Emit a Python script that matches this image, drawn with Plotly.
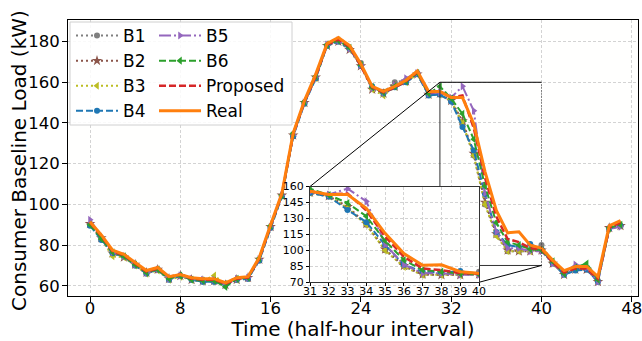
import plotly.graph_objects as go

# ---------------- data ----------------
t = list(range(48))
real = [91.5, 85, 77.5, 75.5, 71.5, 67.5, 69, 64.5, 65.5, 64, 63.5, 63.5, 61.5, 64, 64.5, 74, 90, 105.5,
        135, 151, 164, 179, 182, 178, 169, 158, 155.5, 158, 161, 165.5, 155.5, 155.5, 152.5, 152.5, 139.5,
        116, 97, 86, 86.5, 80, 78.5, 72.5, 67.5, 69.5, 69.5, 64.5, 89.5, 92]
proposed = [91, 84.5, 77, 75, 71, 67, 68.5, 64.5, 65.5, 63.5, 63, 63, 61, 63.5, 64, 73.5, 89.5, 105,
            134.5, 150.5, 163, 178.5, 181, 177.5, 168, 157.5, 155, 157.5, 160.5, 165, 155, 155.5, 152.5,
            153.5, 137.5, 113, 94, 83, 81.5, 78.5, 78, 71.5, 66.5, 68.5, 68.5, 63.5, 88.5, 91]
b1 = [90, 83, 76, 74.5, 70, 66, 68, 63.5, 65, 63, 62, 62, 60.5, 63, 63.5, 72.5, 88.5, 104, 133.5, 150,
      162, 178, 180, 176.5, 169.5, 157, 155, 160, 161, 164.5, 154, 154, 150.5, 139.5, 124, 100, 85, 77,
      77, 77, 80, 71.5, 66, 68, 68, 62.5, 88, 89.5]
b2 = [90.5, 83.5, 76, 74, 70.5, 66.5, 68, 63.5, 65, 63, 62.5, 62.5, 60.5, 63, 64, 73, 89, 104.5, 134,
      150, 162.5, 178, 180, 176, 168, 156.5, 154.5, 158, 160.5, 164, 154, 154.5, 151, 141, 125, 101,
      85.5, 77.5, 77, 77, 77.5, 71, 65.5, 68, 68, 62, 88.5, 89.5]
b3 = [90, 83, 74.5, 74, 70, 66, 67.5, 63, 64.5, 63, 62.5, 65, 61, 63, 64, 73, 89.5, 104.5, 134, 150,
      162, 178.5, 180.5, 176, 168, 156.5, 153.5, 158, 160, 164, 154, 154, 151, 140, 124, 100, 84.5, 77,
      77, 77, 77.5, 71, 66, 68, 68.5, 62.5, 88, 89.5]
b4 = [89.5, 82.5, 76, 74.5, 70, 66, 68, 63, 65, 63, 62, 62, 60.5, 63, 63.5, 72.5, 88.5, 104, 133.5,
      149.5, 162, 178, 180, 176.5, 168, 158, 154.5, 157.5, 160, 164, 153.5, 154, 150.5, 138, 126.5, 105,
      86.5, 80, 79, 80.5, 78, 71, 65.5, 67.5, 68, 62, 88, 89.5]
b5 = [92.5, 84, 76.5, 74.5, 70.5, 66.5, 68, 63.5, 65, 63.5, 63, 63, 60.5, 63.5, 64, 73, 89, 104.5, 134,
      150, 162.5, 178.5, 180.5, 176.5, 168.5, 157, 155, 158.5, 162, 164.5, 154.5, 155, 152.5, 158, 146,
      105.5, 86.5, 78.5, 78.5, 77, 77, 71, 66, 70.5, 69, 62, 88, 89]
b6 = [90, 83, 76.5, 74.5, 70.5, 66.5, 68, 63.5, 65, 63, 62.5, 62.5, 59.5, 63.5, 64, 73.5, 89.5, 104.5,
      135, 150.5, 163, 178.5, 180.5, 177, 168.5, 157.5, 155, 158, 160.5, 164.5, 154.5, 158, 152, 144.5,
      132, 109, 91, 81.5, 80, 78, 77.5, 72, 66, 69, 71, 63, 88.5, 90]

names = ["B1", "B2", "B3", "B4", "B5", "B6", "Proposed", "Real"]
values = [b1, b2, b3, b4, b5, b6, proposed, real]

x_ticks = [0, 8, 16, 24, 32, 40, 48]
y_ticks = [60, 80, 100, 120, 140, 160, 180]
inset_x_ticks = list(range(31, 41))
inset_y_ticks = [70, 85, 100, 115, 130, 145, 160]
zoom_x = (31, 40)
zoom_y = (70, 160)
x_title = "Time (half-hour interval)"
y_title = "Consumer Baseline Load (kW)"

# ---------------- styles ----------------
styles = {
    "B1": dict(color="#7f7f7f", dash="2px,3px", symbol="circle", size=6, width=2),
    "B2": dict(color="#8c564b", dash="2px,3px", symbol="star", size=8, width=2),
    "B3": dict(color="#bcbd22", dash="2px,3px", symbol="triangle-left", size=7, width=2),
    "B4": dict(color="#1f77b4", dash="7px,3px", symbol="circle", size=6, width=2),
    "B5": dict(color="#9467bd", dash="12px,3px,2px,3px", symbol="triangle-right", size=7, width=2),
    "B6": dict(color="#2ca02c", dash="7px,3px", symbol="triangle-left", size=7, width=2),
    "Proposed": dict(color="#d62728", dash="7px,3px", symbol=None, size=0, width=2.5),
    "Real": dict(color="#ff7f0e", dash="solid", symbol=None, size=0, width=3),
}

W, H = 642, 341
ML, MR, MT, MB = 68, 4, 20, 45
PW, PH = W - ML - MR, H - MT - MB
XR = [-1.95, 48.55]
YR = [55.0, 190.6]
# inset placement (pixel box -> domain fractions)
ix0, ix1, iy0, iy1 = 310, 479, 186.5, 282.3
INX = [(ix0 - ML) / PW, (ix1 - ML) / PW]
INY = [(MT + PH - iy1) / PH, (MT + PH - iy0) / PH]

fig = go.Figure()

def add_series(xa, ya, show):
    for nm, vals in zip(names, values):
        s = styles[nm]
        mode = "lines+markers" if s["symbol"] else "lines"
        kw = dict(
            x=t, y=vals, name=nm, mode=mode, xaxis=xa, yaxis=ya,
            line=dict(color=s["color"], width=s["width"], dash=s["dash"]),
            showlegend=show, hoverinfo="skip",
            legend="legend" if nm in ("B1", "B2", "B3", "B4") else "legend2",
        )
        if s["symbol"]:
            kw["marker"] = dict(symbol=s["symbol"], size=s["size"], color=s["color"], line=dict(width=0))
        fig.add_trace(go.Scatter(**kw))

add_series("x", "y", True)

# zoom rectangle and connector lines in main axes coordinates
inset_tl_x = XR[0] + INX[0] * (XR[1] - XR[0])
inset_tl_y = YR[0] + INY[1] * (YR[1] - YR[0])
inset_br_x = XR[0] + INX[1] * (XR[1] - XR[0])
inset_br_y = YR[0] + INY[0] * (YR[1] - YR[0])
edge = dict(color="#333333", width=1)
fig.add_trace(go.Scatter(x=[zoom_x[1], zoom_x[0], zoom_x[0]], y=[zoom_y[0], zoom_y[0], zoom_y[1]],
                         mode="lines", line=edge, showlegend=False, hoverinfo="skip"))
fig.add_trace(go.Scatter(x=[zoom_x[0], zoom_x[1]], y=[zoom_y[1], zoom_y[1]],
                         mode="lines", line=dict(color="black", width=1), showlegend=False, hoverinfo="skip"))
fig.add_trace(go.Scatter(x=[zoom_x[1], zoom_x[1]], y=[zoom_y[0], zoom_y[1]],
                         mode="lines", line=dict(color="#333333", width=1, dash="1px,2px"),
                         showlegend=False, hoverinfo="skip"))
fig.add_trace(go.Scatter(x=[zoom_x[0], inset_tl_x], y=[zoom_y[1], inset_tl_y],
                         mode="lines", line=dict(color="black", width=1), showlegend=False, hoverinfo="skip"))
fig.add_trace(go.Scatter(x=[zoom_x[1], inset_br_x], y=[zoom_y[0], inset_br_y],
                         mode="lines", line=dict(color="black", width=1), showlegend=False, hoverinfo="skip"))

add_series("x2", "y2", False)

FONT = "DejaVu Sans"
grid = dict(showgrid=True, gridcolor="#d3d3d3", gridwidth=1, griddash="3px,2px")

fig.update_layout(
    width=W, height=H,
    margin=dict(l=ML, r=MR, t=MT, b=MB, autoexpand=False),
    paper_bgcolor="#ffffff", plot_bgcolor="#fffffe",
    font=dict(family=FONT, color="black"),
    xaxis=dict(domain=[0, 1], range=XR, tickvals=x_ticks, ticks="outside", ticklen=5, tickwidth=1,
               tickcolor="black", showline=True, linecolor="black", linewidth=1, mirror=True,
               tickfont=dict(size=16.5), zeroline=False, automargin=False, ticklabeloverflow="allow",
               ticklabelstandoff=-8,
               title=dict(text=x_title, font=dict(size=20), standoff=2), **grid),
    yaxis=dict(domain=[0, 1], range=YR, tickvals=y_ticks, ticks="outside", ticklen=5, tickwidth=1,
               tickcolor="black", showline=True, linecolor="black", linewidth=1, mirror=True,
               tickfont=dict(size=16.5), zeroline=False, automargin=False, ticklabelstandoff=-1, **grid),
    xaxis2=dict(domain=INX, range=list(zoom_x), anchor="y2", tickvals=inset_x_ticks, ticks="outside",
                ticklen=3, tickcolor="black", showline=True, linecolor="#333333", linewidth=1, mirror=True,
                tickfont=dict(size=11), zeroline=False, automargin=False, ticklabelstandoff=-5,
                ticklabeloverflow="allow", **grid),
    yaxis2=dict(domain=INY, range=list(zoom_y), anchor="x2", tickvals=inset_y_ticks, ticks="outside",
                ticklen=3, tickcolor="black", showline=True, linecolor="#333333", linewidth=1, mirror=True,
                tickfont=dict(size=11), zeroline=False, automargin=False, ticklabeloverflow="allow", **grid),
    legend=dict(x=(71 - ML) / PW, y=(MT + PH - 18) / PH, xanchor="left", yanchor="top", itemwidth=42,
                bgcolor="rgba(0,0,0,0)", borderwidth=0, font=dict(size=17), tracegroupgap=0),
    legend2=dict(x=(154 - ML) / PW, y=(MT + PH - 18) / PH, xanchor="left", yanchor="top", itemwidth=42,
                 bgcolor="rgba(0,0,0,0)", borderwidth=0, font=dict(size=17), tracegroupgap=0),
    shapes=[dict(type="rect", xref="paper", yref="paper",
                 x0=(70 - ML) / PW, x1=(292 - ML) / PW,
                 y0=(MT + PH - 125) / PH, y1=(MT + PH - 22) / PH,
                 fillcolor="rgba(255,255,255,0.85)", line=dict(color="#d0d0d0", width=1), layer="above")],
    annotations=[dict(text=y_title, textangle=-90, xref="paper", yref="paper",
                      x=(19 - ML) / PW, y=(MT + PH - 161) / PH, xanchor="center", yanchor="middle",
                      showarrow=False, font=dict(size=20))],
)

fig.write_html("out.html")
